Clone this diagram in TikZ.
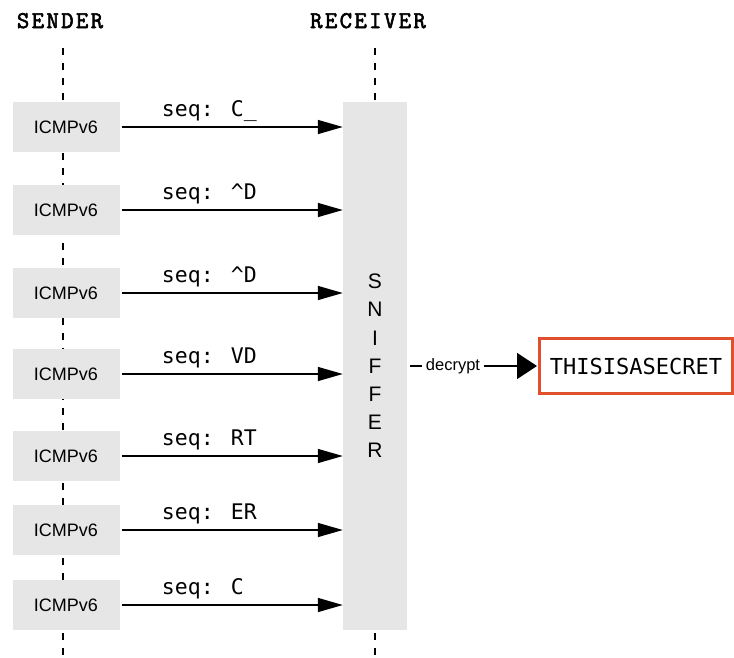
\documentclass[tikz,border=0pt]{standalone}
\usepackage{fontspec}
\usepackage{tikz}
\usetikzlibrary{arrows.meta}
\setmainfont{Liberation Sans}
\newfontfamily\codefont{DejaVu Sans Mono}
\newfontfamily\headfont{Latin Modern Mono}[FakeBold=2.5,LetterSpace=10]
\definecolor{boxgray}{HTML}{E6E6E6}
\definecolor{secretred}{HTML}{E0502D}

\begin{document}
\begin{tikzpicture}[x=1pt,y=-1pt,
    head_node/.style={anchor=base,font=\headfont\fontsize{24}{26}\selectfont},
    packet_node/.style={fill=boxgray,minimum width=107pt,minimum height=50pt,inner sep=0pt,font=\fontsize{18}{20}\selectfont},
    life/.style={line width=2pt,dash pattern=on 7pt off 8pt},
    msg/.style={line width=1.5pt,-{Triangle[length=25pt,width=14pt]},shorten <=2pt},
    seq_label/.style={pos=0.186,anchor=base west,yshift=11pt,inner sep=0pt,font=\codefont\fontsize{21.5}{24}\selectfont}]
    \useasboundingbox (0,0) rectangle (734,657);

    \node[head_node] (sender) at (60,28) {SENDER};
    \node[head_node] (receiver) at (368,28) {RECEIVER};
    \coordinate (stop) at (63,48);
    \coordinate (sbot) at (63,657);
    \coordinate (rtop) at (375,48);
    \coordinate (rbot) at (375,657);
    \draw[life] (stop) -- (sbot);
    \draw[life] (rtop) -- (rbot);

    \node[fill=boxgray,minimum width=64pt,minimum height=528pt,align=center,
          font=\fontsize{21}{28.2}\selectfont] (sniffer) at (375,366) {S\\N\\I\\F\\F\\E\\R};

    \node[packet_node] (1) at (66,127) {ICMPv6};
    \node[packet_node] (2) at (66,210) {ICMPv6};
    \node[packet_node] (3) at (66,293) {ICMPv6};
    \node[packet_node] (4) at (66,374) {ICMPv6};
    \node[packet_node] (5) at (66,456) {ICMPv6};
    \node[packet_node] (6) at (66,530) {ICMPv6};
    \node[packet_node] (7) at (66,605) {ICMPv6};

    \draw[msg] (1.east) -- node[seq_label] {seq: C\_} (1.east -| sniffer.west);
    \draw[msg] (2.east) -- node[seq_label] {seq: \textasciicircum D} (2.east -| sniffer.west);
    \draw[msg] (3.east) -- node[seq_label] {seq: \textasciicircum D} (3.east -| sniffer.west);
    \draw[msg] (4.east) -- node[seq_label] {seq: VD} (4.east -| sniffer.west);
    \draw[msg] (5.east) -- node[seq_label] {seq: RT} (5.east -| sniffer.west);
    \draw[msg] (6.east) -- node[seq_label] {seq: ER} (6.east -| sniffer.west);
    \draw[msg] (7.east) -- node[seq_label] {seq: C} (7.east -| sniffer.west);

    \node[draw=secretred,line width=3pt,minimum width=193pt,minimum height=55pt,
          font=\codefont\fontsize{22}{24}\selectfont] (secret) at (636,366) {THISISASECRET};
    \draw[line width=1.5pt,-{Triangle[length=20pt,width=26pt]},shorten <=3pt,shorten >=1pt]
        (sniffer.east |- secret.west) -- node[pos=0.35,fill=white,inner sep=4pt,font=\fontsize{16.5}{18}\selectfont] {decrypt} (secret.west);
\end{tikzpicture}
\end{document}
